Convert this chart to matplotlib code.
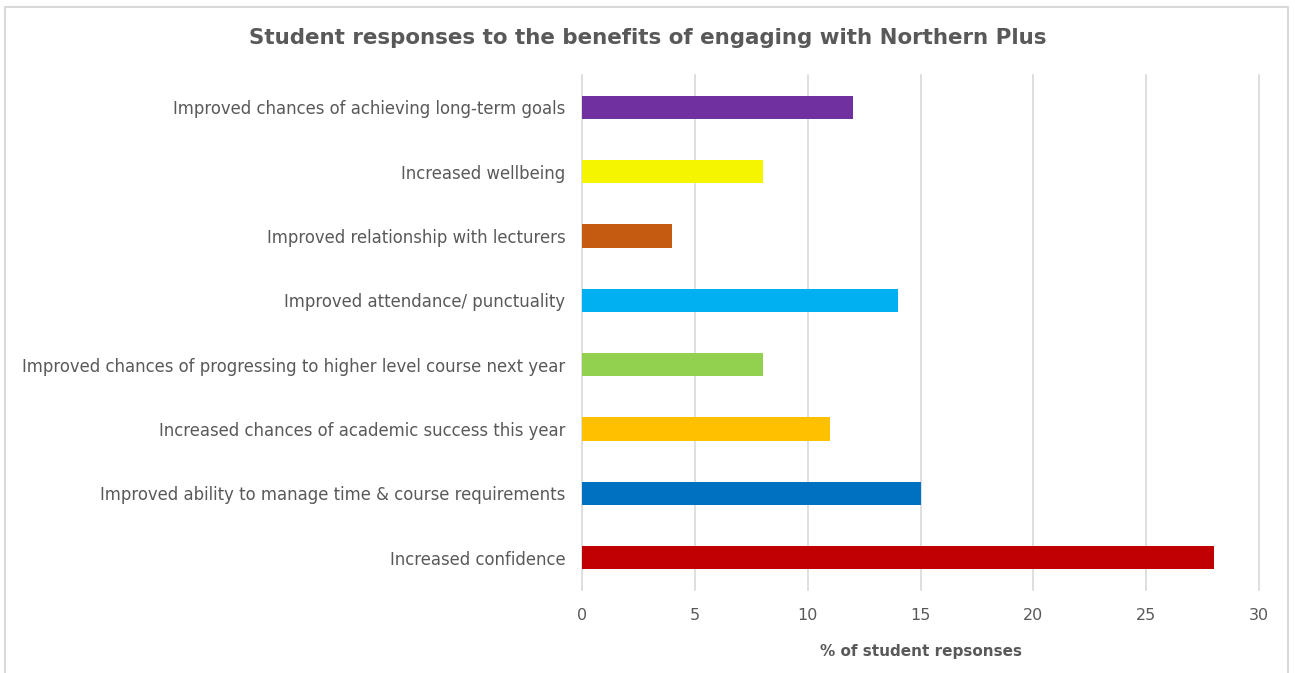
import matplotlib
matplotlib.use("Agg")
import matplotlib.pyplot as plt
from matplotlib.patches import Rectangle

categories = [
    "Increased confidence",
    "Improved ability to manage time & course requirements",
    "Increased chances of academic success this year",
    "Improved chances of progressing to higher level course next year",
    "Improved attendance/ punctuality",
    "Improved relationship with lecturers",
    "Increased wellbeing",
    "Improved chances of achieving long-term goals",
]
values = [28, 15, 11, 8, 14, 4, 8, 12]
colors = ["#C00000", "#0070C0", "#FFC000", "#92D050", "#00B0F0", "#C55A11", "#F5F500", "#7030A0"]
xticks = [0, 5, 10, 15, 20, 25, 30]

TXT = "#595959"
plt.rcParams['font.family'] = ['DejaVu Sans']

fig = plt.figure(figsize=(12.95, 6.73), dpi=100)
ax = fig.add_axes([582/1295, 1-590/673, (1259-582)/1295, (590-75)/673])

ypos = list(range(len(categories)))
ax.barh(ypos, values, height=0.36, color=colors, zorder=3)
ax.set_ylim(-0.5, len(categories)-0.5)
ax.set_xlim(0, 30)
ax.set_xticks(xticks)
ax.set_yticks(ypos)
ax.set_yticklabels(categories, fontsize=11.9, color=TXT)
ax.tick_params(axis='y', length=0, pad=12)
ax.tick_params(axis='x', length=0, pad=13, labelsize=11.5, labelcolor=TXT)
ax.grid(axis='x', color="#D9D9D9", linewidth=1.2, zorder=0)
for gl in ax.get_xgridlines():
    gl.set_clip_on(False)
for s in ax.spines.values():
    s.set_visible(False)
ax.set_xlabel("% of student repsonses", fontsize=11, fontweight='bold', color=TXT, labelpad=15)

fig.text(0.5, 1-38/673, "Student responses to the benefits of engaging with Northern Plus",
         ha='center', va='center', fontsize=15.4, fontweight='bold', color=TXT)

fig.patches.append(Rectangle((5/1295, -0.05), (1288-5)/1295, 1.05-7/673,
                             transform=fig.transFigure, fill=False,
                             edgecolor="#D9D9D9", linewidth=1.5))

fig.savefig("out.png", dpi=100)
